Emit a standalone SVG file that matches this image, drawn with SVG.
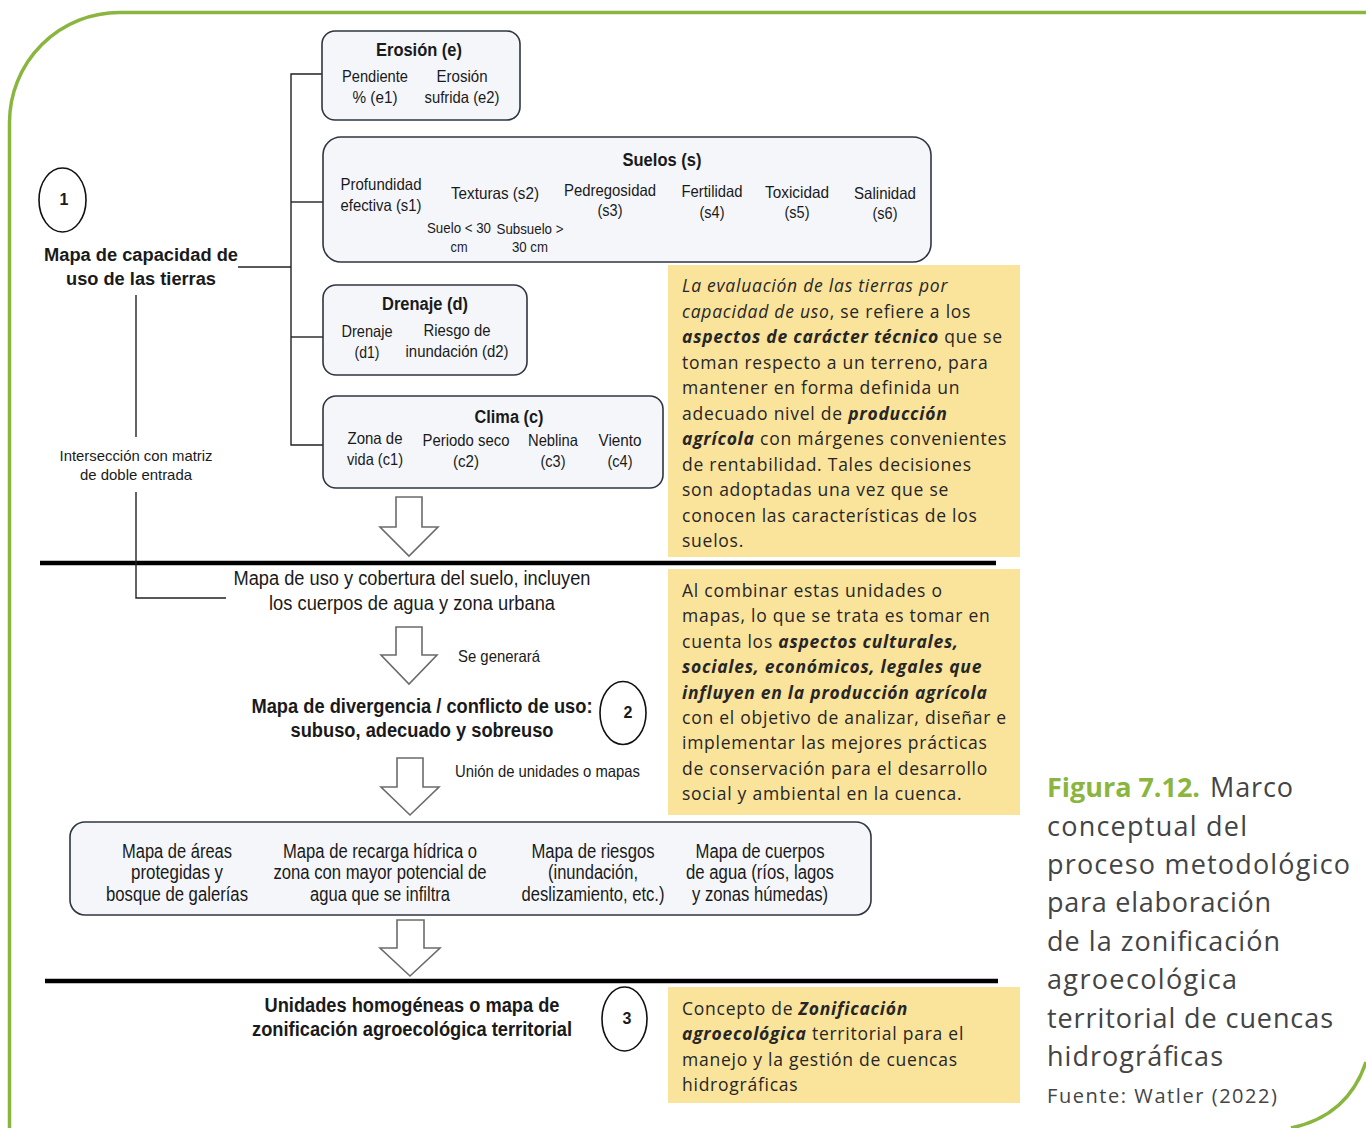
<svg xmlns="http://www.w3.org/2000/svg" width="1366" height="1128" viewBox="0 0 1366 1128">
  <style>
    .frame { fill: none; stroke: #8ab640; stroke-width: 3.5; }
    .box { fill: #f4f6fa; stroke: #2f3640; stroke-width: 1.6; }
    .wire { fill: none; stroke: #222; stroke-width: 1.4; }
    .rule { stroke: #000; stroke-width: 4.5; }
    .arrow { fill: #fff; stroke: #6b6b6b; stroke-width: 1.6; stroke-linejoin: miter; }
    .ring { fill: #fff; stroke: #111; stroke-width: 1.6; }
    .note { fill: #fae39b; }
    .n { font-family: "Liberation Sans", Arial, sans-serif; fill: #1a1a1a; text-anchor: middle; font-size: 16.5px; }
    .t { font-size: 18px; font-weight: bold; }
    .m { font-size: 20px; }
    .sm { font-size: 15px; }
    .s { font-family: "Liberation Sans", Arial, sans-serif; fill: #1a1a1a; text-anchor: middle; }
    .b { font-weight: bold; }
    .y { font-family: "Open Sans", "Noto Sans", sans-serif; font-size: 17.5px; letter-spacing: 0.75px; fill: #262626; }
    .em { font-style: italic; }
    .emb { font-style: italic; font-weight: bold; }
    .cap { font-family: "Open Sans", "Noto Sans", sans-serif; font-size: 27px; fill: #444; }
  </style>

  <!-- page frame: rounded top-left corner and the right-bottom curve -->
  <path class="frame" d="M 9.5 1128 V 122 A 110 110 0 0 1 119.5 12.5 H 1366"/>
  <path class="frame" d="M 1366 1062 Q 1348 1116 1291 1128"/>

  <!-- yellow commentary panels -->
  <g id="note-capacidad">
    <rect class="note" x="668" y="265" width="352" height="292"/>
    <text class="y" x="682" y="292"><tspan class="em">La evaluación de las tierras por</tspan></text>
    <text class="y" x="682" y="317.5"><tspan class="em">capacidad de uso</tspan>, se refiere a los</text>
    <text class="y" x="682" y="343"><tspan class="emb">aspectos de carácter técnico</tspan> que se</text>
    <text class="y" x="682" y="368.5">toman respecto a un terreno, para</text>
    <text class="y" x="682" y="394">mantener en forma definida un</text>
    <text class="y" x="682" y="419.5">adecuado nivel de <tspan class="emb">producción</tspan></text>
    <text class="y" x="682" y="445"><tspan class="emb">agrícola</tspan> con márgenes convenientes</text>
    <text class="y" x="682" y="470.5">de rentabilidad. Tales decisiones</text>
    <text class="y" x="682" y="496">son adoptadas una vez que se</text>
    <text class="y" x="682" y="521.5">conocen las características de los</text>
    <text class="y" x="682" y="547">suelos.</text>
  </g>
  <g id="note-combinar">
    <rect class="note" x="668" y="569" width="352" height="246"/>
    <text class="y" x="682" y="597">Al combinar estas unidades o</text>
    <text class="y" x="682" y="622.4">mapas, lo que se trata es tomar en</text>
    <text class="y" x="682" y="647.8">cuenta los <tspan class="emb">aspectos culturales,</tspan></text>
    <text class="y" x="682" y="673.2"><tspan class="emb">sociales, económicos, legales que</tspan></text>
    <text class="y" x="682" y="698.6"><tspan class="emb">influyen en la producción agrícola</tspan></text>
    <text class="y" x="682" y="724">con el objetivo de analizar, diseñar e</text>
    <text class="y" x="682" y="749.4">implementar las mejores prácticas</text>
    <text class="y" x="682" y="774.8">de conservación para el desarrollo</text>
    <text class="y" x="682" y="800.2">social y ambiental en la cuenca.</text>
  </g>
  <g id="note-concepto">
    <rect class="note" x="668" y="987" width="352" height="116"/>
    <text class="y" x="682" y="1015">Concepto de <tspan class="emb">Zonificación</tspan></text>
    <text class="y" x="682" y="1040.3"><tspan class="emb">agroecológica</tspan> territorial para el</text>
    <text class="y" x="682" y="1065.6">manejo y la gestión de cuencas</text>
    <text class="y" x="682" y="1091">hidrográficas</text>
  </g>

  <!-- stage separators -->
  <line class="rule" x1="40" y1="563" x2="996" y2="563"/>
  <line class="rule" x1="45" y1="981" x2="998" y2="981"/>

  <!-- connectors -->
  <g id="connectors">
    <polyline class="wire" points="322,74 291,74 291,445 323,445"/>
    <line class="wire" x1="291" y1="202" x2="323" y2="202"/>
    <line class="wire" x1="291" y1="337" x2="323" y2="337"/>
    <line class="wire" x1="238" y1="267" x2="291" y2="267"/>
    <line class="wire" x1="136" y1="295" x2="136" y2="437"/>
    <polyline class="wire" points="136,492 136,598 226,598"/>
    <polygon class="arrow" points="396,497 422,497 422,527 438,527 409,556 380,527 396,527"/>
    <polygon class="arrow" points="396,627 422,627 422,655 437,655 409,684 381,655 396,655"/>
    <polygon class="arrow" points="397,758 423,758 423,787 439,787 410,815 381,787 397,787"/>
    <polygon class="arrow" points="397,920 424,920 424,948 440,948 410,976 380,948 397,948"/>
    <text class="n" x="458" y="662" style="text-anchor:start" textLength="82" lengthAdjust="spacingAndGlyphs">Se generará</text>
    <text class="n" x="455" y="777" style="text-anchor:start" textLength="185" lengthAdjust="spacingAndGlyphs">Unión de unidades o mapas</text>
    <text class="s" x="136" y="461" font-size="15" textLength="153" lengthAdjust="spacingAndGlyphs">Intersección con matriz</text>
    <text class="s" x="136" y="480" font-size="15" textLength="112" lengthAdjust="spacingAndGlyphs">de doble entrada</text>
  </g>

  <!-- stage 1 -->
  <g id="capacidad">
    <ellipse class="ring" cx="62.5" cy="200" rx="23.5" ry="32"/>
    <text class="s b" x="64" y="205" font-size="16">1</text>
    <text class="s b" x="141" y="261" font-size="18" textLength="194" lengthAdjust="spacingAndGlyphs">Mapa de capacidad de</text>
    <text class="s b" x="141" y="285" font-size="18" textLength="150" lengthAdjust="spacingAndGlyphs">uso de las tierras</text>
  </g>

  <g id="erosion">
    <rect class="box" x="322" y="31" width="198" height="89" rx="13"/>
    <text class="n t" x="419" y="56" textLength="86" lengthAdjust="spacingAndGlyphs">Erosión (e)</text>
    <text class="n" x="375" y="82" textLength="66" lengthAdjust="spacingAndGlyphs">Pendiente</text>
    <text class="n" x="375" y="103" textLength="45" lengthAdjust="spacingAndGlyphs">% (e1)</text>
    <text class="n" x="462" y="82" textLength="51" lengthAdjust="spacingAndGlyphs">Erosión</text>
    <text class="n" x="462" y="103" textLength="75" lengthAdjust="spacingAndGlyphs">sufrida (e2)</text>
  </g>

  <g id="suelos">
    <rect class="box" x="323" y="137" width="608" height="125" rx="18"/>
    <text class="n t" x="662" y="166" textLength="79" lengthAdjust="spacingAndGlyphs">Suelos (s)</text>
    <text class="n" x="381" y="190" textLength="81" lengthAdjust="spacingAndGlyphs">Profundidad</text>
    <text class="n" x="381" y="211" textLength="81" lengthAdjust="spacingAndGlyphs">efectiva (s1)</text>
    <text class="n" x="495" y="199" textLength="88" lengthAdjust="spacingAndGlyphs">Texturas (s2)</text>
    <text class="n" x="610" y="196" textLength="92" lengthAdjust="spacingAndGlyphs">Pedregosidad</text>
    <text class="n" x="610" y="216" textLength="25" lengthAdjust="spacingAndGlyphs">(s3)</text>
    <text class="n" x="712" y="197" textLength="61" lengthAdjust="spacingAndGlyphs">Fertilidad</text>
    <text class="n" x="712" y="218" textLength="25" lengthAdjust="spacingAndGlyphs">(s4)</text>
    <text class="n" x="797" y="198" textLength="64" lengthAdjust="spacingAndGlyphs">Toxicidad</text>
    <text class="n" x="797" y="218" textLength="25" lengthAdjust="spacingAndGlyphs">(s5)</text>
    <text class="n" x="885" y="199" textLength="62" lengthAdjust="spacingAndGlyphs">Salinidad</text>
    <text class="n" x="885" y="219" textLength="25" lengthAdjust="spacingAndGlyphs">(s6)</text>
    <text class="n sm" x="459" y="233" textLength="64" lengthAdjust="spacingAndGlyphs">Suelo &lt; 30</text>
    <text class="n sm" x="459" y="252" textLength="17" lengthAdjust="spacingAndGlyphs">cm</text>
    <text class="n sm" x="530" y="234" textLength="67" lengthAdjust="spacingAndGlyphs">Subsuelo &gt;</text>
    <text class="n sm" x="530" y="252" textLength="36" lengthAdjust="spacingAndGlyphs">30 cm</text>
  </g>

  <g id="drenaje">
    <rect class="box" x="323" y="285" width="204" height="90" rx="13"/>
    <text class="n t" x="425" y="310" textLength="86" lengthAdjust="spacingAndGlyphs">Drenaje (d)</text>
    <text class="n" x="367" y="337" textLength="51" lengthAdjust="spacingAndGlyphs">Drenaje</text>
    <text class="n" x="367" y="358" textLength="25" lengthAdjust="spacingAndGlyphs">(d1)</text>
    <text class="n" x="457" y="336" textLength="67" lengthAdjust="spacingAndGlyphs">Riesgo de</text>
    <text class="n" x="457" y="357" textLength="103" lengthAdjust="spacingAndGlyphs">inundación (d2)</text>
  </g>

  <g id="clima">
    <rect class="box" x="323" y="396" width="340" height="92" rx="13"/>
    <text class="n t" x="509" y="423" textLength="69" lengthAdjust="spacingAndGlyphs">Clima (c)</text>
    <text class="n" x="375" y="444" textLength="55" lengthAdjust="spacingAndGlyphs">Zona de</text>
    <text class="n" x="375" y="465" textLength="56" lengthAdjust="spacingAndGlyphs">vida (c1)</text>
    <text class="n" x="466" y="446" textLength="87" lengthAdjust="spacingAndGlyphs">Periodo seco</text>
    <text class="n" x="466" y="467" textLength="26" lengthAdjust="spacingAndGlyphs">(c2)</text>
    <text class="n" x="553" y="446" textLength="50" lengthAdjust="spacingAndGlyphs">Neblina</text>
    <text class="n" x="553" y="467" textLength="25" lengthAdjust="spacingAndGlyphs">(c3)</text>
    <text class="n" x="620" y="446" textLength="43" lengthAdjust="spacingAndGlyphs">Viento</text>
    <text class="n" x="620" y="467" textLength="25" lengthAdjust="spacingAndGlyphs">(c4)</text>
  </g>

  <!-- stage 2 -->
  <g id="uso-cobertura">
    <text class="n m" x="412" y="585" textLength="357" lengthAdjust="spacingAndGlyphs">Mapa de uso y cobertura del suelo, incluyen</text>
    <text class="n m" x="412" y="610" textLength="286" lengthAdjust="spacingAndGlyphs">los cuerpos de agua y zona urbana</text>
  </g>

  <g id="divergencia">
    <text class="n m b" x="422" y="713" textLength="341" lengthAdjust="spacingAndGlyphs">Mapa de divergencia / conflicto de uso:</text>
    <text class="n m b" x="422" y="737" textLength="263" lengthAdjust="spacingAndGlyphs">subuso, adecuado y sobreuso</text>
    <ellipse class="ring" cx="623" cy="713" rx="23" ry="31.5"/>
    <text class="s b" x="628" y="718" font-size="16">2</text>
  </g>

  <g id="mapas-tematicos">
    <rect class="box" x="70" y="822" width="801" height="93" rx="15"/>
    <text class="n m" x="177" y="858" textLength="110" lengthAdjust="spacingAndGlyphs">Mapa de áreas</text>
    <text class="n m" x="177" y="879" textLength="92" lengthAdjust="spacingAndGlyphs">protegidas y</text>
    <text class="n m" x="177" y="901" textLength="142" lengthAdjust="spacingAndGlyphs">bosque de galerías</text>
    <text class="n m" x="380" y="858" textLength="194" lengthAdjust="spacingAndGlyphs">Mapa de recarga hídrica o</text>
    <text class="n m" x="380" y="879" textLength="213" lengthAdjust="spacingAndGlyphs">zona con mayor potencial de</text>
    <text class="n m" x="380" y="901" textLength="140" lengthAdjust="spacingAndGlyphs">agua que se infiltra</text>
    <text class="n m" x="593" y="858" textLength="123" lengthAdjust="spacingAndGlyphs">Mapa de riesgos</text>
    <text class="n m" x="593" y="879" textLength="90" lengthAdjust="spacingAndGlyphs">(inundación,</text>
    <text class="n m" x="593" y="901" textLength="143" lengthAdjust="spacingAndGlyphs">deslizamiento, etc.)</text>
    <text class="n m" x="760" y="858" textLength="129" lengthAdjust="spacingAndGlyphs">Mapa de cuerpos</text>
    <text class="n m" x="760" y="879" textLength="148" lengthAdjust="spacingAndGlyphs">de agua (ríos, lagos</text>
    <text class="n m" x="760" y="901" textLength="136" lengthAdjust="spacingAndGlyphs">y zonas húmedas)</text>
  </g>

  <!-- stage 3 -->
  <g id="zonificacion">
    <text class="n m b" x="412" y="1012" textLength="295" lengthAdjust="spacingAndGlyphs">Unidades homogéneas o mapa de</text>
    <text class="n m b" x="412" y="1036" textLength="320" lengthAdjust="spacingAndGlyphs">zonificación agroecológica territorial</text>
    <ellipse class="ring" cx="624.5" cy="1019" rx="22.5" ry="32"/>
    <text class="s b" x="627" y="1024" font-size="16">3</text>
  </g>

  <!-- figure caption -->
  <g id="caption">
    <text class="cap" x="1047" y="797" font-weight="bold" style="fill:#8ab640" textLength="153">Figura 7.12.</text>
    <text class="cap" x="1210" y="797" textLength="83">Marco</text>
    <text class="cap" x="1047" y="836" textLength="200">conceptual del</text>
    <text class="cap" x="1047" y="874" textLength="303">proceso metodológico</text>
    <text class="cap" x="1047" y="912" textLength="224">para elaboración</text>
    <text class="cap" x="1047" y="951" textLength="233">de la zonificación</text>
    <text class="cap" x="1047" y="989" textLength="190">agroecológica</text>
    <text class="cap" x="1047" y="1028" textLength="286">territorial de cuencas</text>
    <text class="cap" x="1047" y="1066" textLength="176">hidrográficas</text>
    <text class="cap" x="1047" y="1103" style="font-size:20px" textLength="230">Fuente: Watler (2022)</text>
  </g>
</svg>
